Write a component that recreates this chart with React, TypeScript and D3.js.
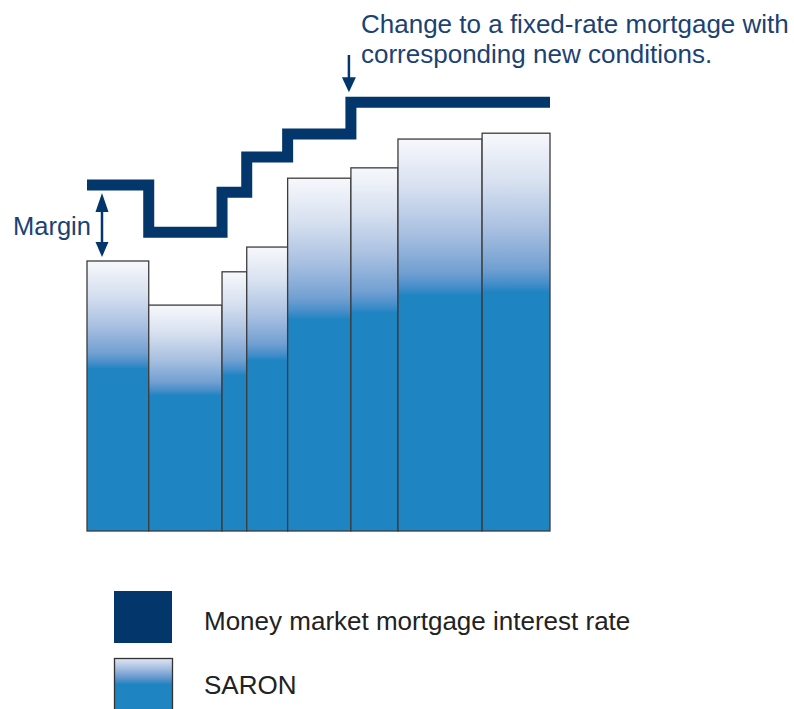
import React from "react";
import * as d3 from "d3";

// Period boundaries (months from start) – each SARON period
const periodStarts = [0, 8.0, 17.5, 20.7, 26.0, 34.2, 40.3, 51.2];
const periodEnd = 60;
// SARON level per period (arbitrary units)
const saronValues = [6.0, 5.02, 5.76, 6.31, 7.84, 8.07, 8.71, 8.84];
// Money market mortgage interest rate per period (SARON + margin, then fixed)
const mortgageRates = [7.69, 6.64, 7.53, 8.31, 8.82, 9.53, 9.53, 9.53];

const legendLabels = ["Money market mortgage interest rate", "SARON"];
const annotationLines = ["Change to a fixed-rate mortgage with", "corresponding new conditions."];
const marginLabel = "Margin";

const W = 794;
const H = 709;
const NAVY = "#03366a";
const BLUE = "#1e84c2";
const FONT = "'Liberation Sans', Arial, Helvetica, sans-serif";

export default function App() {
  const x = d3.scaleLinear().domain([0, periodEnd]).range([87, 550]);
  const y = d3.scaleLinear().domain([0, 10]).range([531, 81]);

  const bars = periodStarts.map((s, i) => ({
    x0: s,
    x1: i < periodStarts.length - 1 ? periodStarts[i + 1] : periodEnd,
    v: saronValues[i],
  }));

  const linePts: [number, number][] = periodStarts.map((s, i) => [s, mortgageRates[i]]);
  linePts.push([periodEnd, mortgageRates[mortgageRates.length - 1]]);
  const stepLine = d3
    .line<[number, number]>()
    .x((d) => x(d[0]))
    .y((d) => y(d[1]))
    .curve(d3.curveStepAfter);

  // margin arrow between first rate and first SARON bar
  const mx = 102;
  const mTop = y(mortgageRates[0]) + 8;
  const mBot = y(saronValues[0]) - 4;

  // annotation arrow at switch to fixed rate
  const ax = x(periodStarts[5]) - 2;
  const aTip = y(mortgageRates[5]) - 10;

  return (
    <svg
      width={W}
      height={H}
      style={{ position: "absolute", left: 0, top: 0, background: "#fff" }}
      fontFamily={FONT}
    >
      <defs>
        <linearGradient id="barGrad" x1="0" y1="0" x2="0" y2="1">
          <stop offset="0" stopColor="#f7f8fc" />
          <stop offset="0.12" stopColor="#d8e1f0" />
          <stop offset="0.24" stopColor="#a9c0e1" />
          <stop offset="0.34" stopColor="#72a0d2" />
          <stop offset="0.38" stopColor="#428dc9" />
          <stop offset="0.4" stopColor={BLUE} />
          <stop offset="1" stopColor={BLUE} />
        </linearGradient>
        <linearGradient id="legGrad" x1="0" y1="0" x2="0" y2="1">
          <stop offset="0" stopColor="#dfe6f3" />
          <stop offset="0.2" stopColor="#a3bce0" />
          <stop offset="0.38" stopColor="#5f95cd" />
          <stop offset="0.5" stopColor={BLUE} />
          <stop offset="1" stopColor={BLUE} />
        </linearGradient>
      </defs>

      {bars.map((b, i) => (
        <rect
          key={i}
          x={x(b.x0)}
          y={y(b.v)}
          width={x(b.x1) - x(b.x0)}
          height={y(0) - y(b.v)}
          fill="url(#barGrad)"
          stroke="#3c3c3c"
          strokeWidth={1.3}
        />
      ))}

      <path
        d={stepLine(linePts) || ""}
        fill="none"
        stroke={NAVY}
        strokeWidth={11}
        strokeLinejoin="miter"
        strokeLinecap="butt"
      />

      {/* Margin arrow */}
      <line x1={mx} x2={mx} y1={mTop + 14} y2={mBot - 14} stroke={NAVY} strokeWidth={2.5} />
      <path d={`M${mx},${mTop} L${mx - 6.5},${mTop + 19} L${mx + 6.5},${mTop + 19} Z`} fill={NAVY} />
      <path d={`M${mx},${mBot} L${mx - 6.5},${mBot - 15} L${mx + 6.5},${mBot - 15} Z`} fill={NAVY} />
      <text x={13} y={235} fontSize={25.5} fill="#1b4272">
        {marginLabel}
      </text>

      {/* Annotation */}
      <line x1={ax} x2={ax} y1={55} y2={aTip - 12} stroke={NAVY} strokeWidth={2.5} />
      <path d={`M${ax},${aTip} L${ax - 7},${aTip - 15} L${ax + 7},${aTip - 15} Z`} fill={NAVY} />
      {annotationLines.map((t, i) => (
        <text key={i} x={361} y={33 + i * 30} fontSize={26} fill="#1b4272">
          {t}
        </text>
      ))}

      {/* Legend */}
      <rect x={114} y={591} width={58} height={52} fill={NAVY} />
      <rect x={114.5} y={658.5} width={58} height={52} fill="url(#legGrad)" stroke="#333" strokeWidth={1.3} />
      <text x={204} y={630} fontSize={26} fill="#222">
        {legendLabels[0]}
      </text>
      <text x={204} y={694} fontSize={26} fill="#222">
        {legendLabels[1]}
      </text>
    </svg>
  );
}
